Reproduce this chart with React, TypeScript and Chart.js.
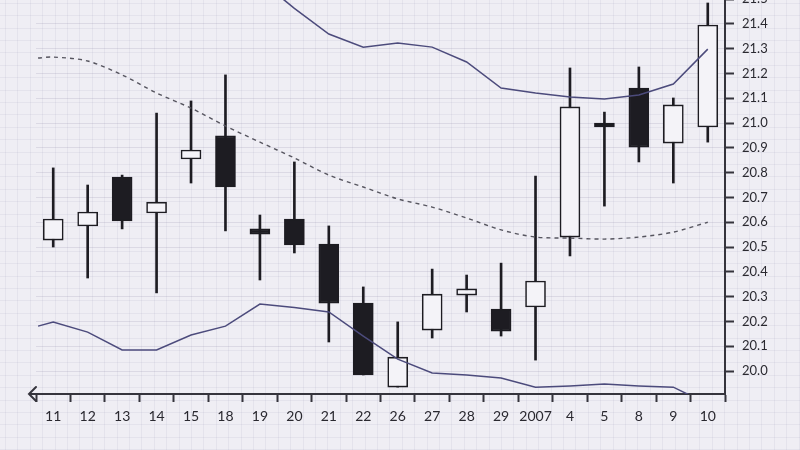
import React, { useEffect, useRef } from "react";
import { Chart, registerables } from "chart.js";
Chart.register(...registerables);

// ---- data ----
const categories = ["11", "12", "13", "14", "15", "18", "19", "20", "21", "22", "26", "27", "28", "29", "2007", "4", "5", "8", "9", "10"];
const opens = [20.528, 20.585, 20.782, 20.637, 20.855, 20.948, 20.573, 20.613, 20.512, 20.274, 19.935, 20.165, 20.306, 20.25, 20.258, 20.54, 21.0, 21.141, 20.919, 20.984];
const closes = [20.613, 20.641, 20.605, 20.681, 20.891, 20.742, 20.552, 20.508, 20.274, 19.984, 20.056, 20.31, 20.331, 20.161, 20.363, 21.065, 20.984, 20.903, 21.073, 21.395];
const highs = [20.819, 20.75, 20.79, 21.04, 21.089, 21.194, 20.629, 20.843, 20.585, 20.339, 20.198, 20.411, 20.387, 20.435, 20.786, 21.222, 21.044, 21.226, 21.101, 21.484];
const lows = [20.5, 20.375, 20.573, 20.315, 20.758, 20.565, 20.367, 20.476, 20.117, 19.984, 19.935, 20.133, 20.238, 20.141, 20.044, 20.464, 20.665, 20.843, 20.758, 20.923];

const upperBand = [22.334, 22.343, 22.303, 22.157, 21.975, 21.795, 21.576, 21.462, 21.359, 21.306, 21.323, 21.306, 21.246, 21.141, 21.121, 21.105, 21.097, 21.113, 21.157, 21.298];
const middleBand = [21.266, 21.25, 21.194, 21.121, 21.06, 20.988, 20.923, 20.859, 20.79, 20.742, 20.694, 20.661, 20.617, 20.569, 20.54, 20.536, 20.532, 20.54, 20.56, 20.6];
const lowerBand = [20.198, 20.157, 20.085, 20.085, 20.145, 20.181, 20.27, 20.256, 20.238, 20.141, 20.048, 19.992, 19.984, 19.972, 19.935, 19.94, 19.948, 19.94, 19.935, 19.867];
// bands start slightly before the first session
const bandLeadIndex = -0.44;
const bandLeadUpper = 22.343;
const bandLeadMiddle = 21.262;
const bandLeadLower = 20.181;

const yMin = 19.9073;
const yMax = 21.617;
const yStep = 0.1;

// ---- styles ----
const INK = "#1d1c22";
const TEXT = "#2a2930";
const BAND = "#4c4b7c";
const BG = "#efeef4";
const FONT = "Lato, 'DejaVu Sans', sans-serif";

const bandPoints = (lead: number, vals: number[]) => [
  { x: bandLeadIndex, y: lead },
  ...vals.map((v, i) => ({ x: i, y: v })),
];

const paperPlugin = {
  id: "paper",
  beforeDraw(chart: any) {
    const { ctx, width, height } = chart;
    ctx.save();
    ctx.fillStyle = BG;
    ctx.fillRect(0, 0, width, height);
    ctx.lineWidth = 1;
    ctx.strokeStyle = "rgba(140,135,165,0.10)";
    for (let x = 5; x < width; x += 12.4) {
      ctx.beginPath();
      ctx.moveTo(Math.round(x) + 0.5, 0);
      ctx.lineTo(Math.round(x) + 0.5, height);
      ctx.stroke();
    }
    for (let y = 8; y < height; y += 12.4) {
      ctx.beginPath();
      ctx.moveTo(0, Math.round(y) + 0.5);
      ctx.lineTo(width, Math.round(y) + 0.5);
      ctx.stroke();
    }
    ctx.restore();
  },
  afterDraw(chart: any) {
    const { ctx, chartArea } = chart;
    const y = chartArea.bottom;
    const tip = chartArea.left - 7;
    ctx.save();
    ctx.strokeStyle = "#35343c";
    ctx.lineWidth = 2;
    ctx.lineCap = "round";
    ctx.beginPath();
    ctx.moveTo(chartArea.left, y);
    ctx.lineTo(tip, y);
    ctx.moveTo(tip + 7, y - 7);
    ctx.lineTo(tip, y);
    ctx.lineTo(tip + 7, y + 7);
    ctx.stroke();
    ctx.restore();
  },
};

export default function App() {
  const ref = useRef<HTMLCanvasElement>(null);
  useEffect(() => {
    document.body.style.margin = "0";
    document.body.style.background = BG;
    const canvas = ref.current!;
    const bullish = opens.map((o, i) => closes[i] >= o);
    const chart = new Chart(canvas, {
      type: "bar",
      data: {
        labels: categories,
        datasets: [
          {
            type: "line",
            label: "Upper",
            data: bandPoints(bandLeadUpper, upperBand),
            xAxisID: "xl",
            borderColor: BAND,
            borderWidth: 1.5,
            pointRadius: 0,
            tension: 0,
            fill: false,
            order: 0,
          } as any,
          {
            type: "line",
            label: "Middle",
            data: bandPoints(bandLeadMiddle, middleBand),
            xAxisID: "xl",
            borderColor: "#56555f",
            borderWidth: 1.4,
            borderDash: [4, 4],
            pointRadius: 0,
            tension: 0.3,
            fill: false,
            order: 0,
          } as any,
          {
            type: "line",
            label: "Lower",
            data: bandPoints(bandLeadLower, lowerBand),
            xAxisID: "xl",
            borderColor: BAND,
            borderWidth: 1.5,
            pointRadius: 0,
            tension: 0,
            fill: false,
            order: 0,
          } as any,
          {
            label: "Body",
            data: opens.map((o, i) => [o, closes[i]]),
            xAxisID: "x",
            backgroundColor: bullish.map((b) => (b ? "#f4f3f8" : INK)),
            borderColor: INK,
            borderWidth: 1.6,
            borderSkipped: false,
            barThickness: 20,
            grouped: false,
            order: 1,
          } as any,
          {
            label: "Wick",
            data: lows.map((l, i) => [l, highs[i]]),
            xAxisID: "x",
            backgroundColor: INK,
            borderWidth: 0,
            barThickness: 2,
            grouped: false,
            order: 2,
          } as any,
        ],
      },
      options: {
        animation: false,
        responsive: false,
        maintainAspectRatio: false,
        layout: { padding: { left: 36, right: 0, top: 0, bottom: 0 } },
        plugins: { legend: { display: false }, tooltip: { enabled: false } },
        scales: {
          x: {
            type: "category",
            offset: true,
            grid: {
              drawOnChartArea: false,
              drawTicks: true,
              tickLength: 8,
              tickColor: "#35343c",
              tickWidth: 2,
            },
            border: { display: true, color: "#35343c", width: 2 },
            ticks: {
              color: TEXT,
              font: { family: FONT, size: 14 },
              padding: 6,
              maxRotation: 0,
              autoSkip: false,
            },
            afterFit: (s: any) => {
              s.height = 56;
              s.paddingLeft = 0;
              s.paddingRight = 0;
            },
          },
          xl: {
            type: "linear",
            axis: "x",
            position: "bottom",
            display: false,
            offset: false,
            min: -0.5,
            max: categories.length - 0.5,
            grid: { offset: false },
            afterFit: (s: any) => {
              s.height = 0;
              s.paddingLeft = 0;
              s.paddingRight = 0;
            },
          },
          y: {
            position: "right",
            min: yMin,
            max: yMax,
            grid: {
              drawOnChartArea: true,
              color: "rgba(140,135,165,0.20)",
              tickLength: 9,
              tickColor: "#35343c",
              tickWidth: 2,
            },
            border: { display: true, color: "#35343c", width: 2 },
            ticks: {
              stepSize: yStep,
              includeBounds: false,
              color: TEXT,
              font: { family: FONT, size: 13 },
              padding: 8,
              callback: (v: any) => Number(v).toFixed(1),
            },
            afterFit: (s: any) => {
              s.width = 75;
              s.paddingTop = 0;
              s.paddingBottom = 0;
            },
          },
        },
      } as any,
      plugins: [paperPlugin],
    });
    return () => chart.destroy();
  }, []);

  return (
    <div style={{ position: "fixed", left: 0, top: -30, width: 800, height: 480 }}>
      <canvas ref={ref} width={800} height={480} style={{ width: 800, height: 480, display: "block" }} />
    </div>
  );
}
